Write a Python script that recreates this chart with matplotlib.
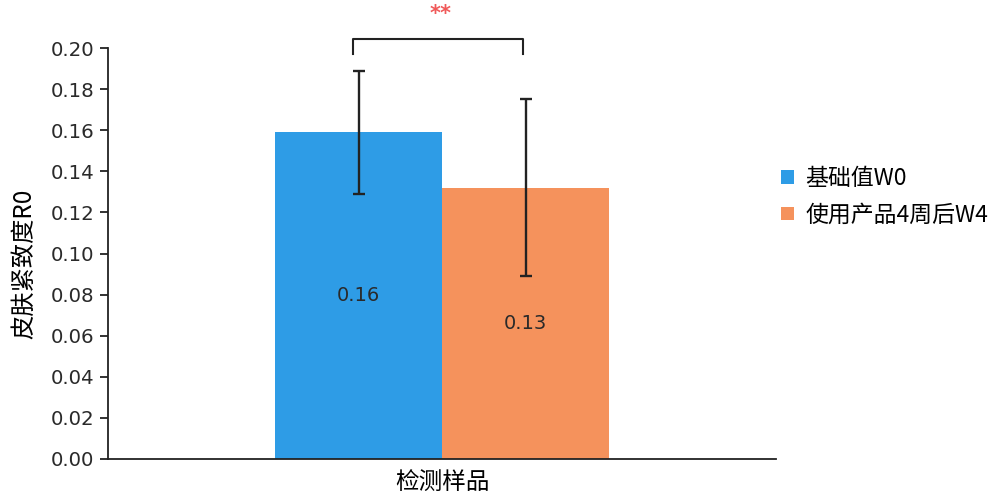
import matplotlib
matplotlib.use("Agg")
import matplotlib.pyplot as plt
from matplotlib.patches import Patch

plt.rcParams['font.family'] = ['Noto Sans CJK SC', 'DejaVu Sans']

# Data
series_names = ["基础值W0", "使用产品4周后W4"]
values = [0.159, 0.132]
errors = [0.030, 0.043]
colors = ["#2E9CE6", "#F5925C"]
category = "检测样品"
y_ticks = [0.00, 0.02, 0.04, 0.06, 0.08, 0.10, 0.12, 0.14, 0.16, 0.18, 0.20]
y_label = "皮肤紧致度R0"
significance = "**"

num_font = ['DejaVu Sans']

fig = plt.figure(figsize=(9.94, 5.01), dpi=100)
ax = fig.add_axes([0.109, 0.084, 0.672, 0.820])

bar_w = 0.25
xs = [-bar_w / 2, bar_w / 2]
ax.bar(xs, values, width=bar_w, color=colors, edgecolor="none", zorder=2)
ax.errorbar(xs, values, yerr=errors, fmt="none", ecolor="#222222",
            elinewidth=1.7, capsize=4.5, capthick=1.7, zorder=3)

for x, v in zip(xs, values):
    ax.text(x, v / 2, f"{v:.2f}", ha="center", va="center",
            fontsize=14, color="#2a2a2a", family=num_font, zorder=4)

ax.set_xlim(-0.5, 0.5)
ax.set_ylim(0, 0.20)
ax.set_yticks(y_ticks)
ax.set_yticklabels([f"{t:.2f}" for t in y_ticks], fontsize=14.2,
                   color="#2a2a2a", family=num_font)
ax.set_xticks([])
ax.set_xlabel(category, fontsize=17, labelpad=9)
ax.set_ylabel(y_label, fontsize=17.5)
ax.yaxis.set_label_coords(-0.106, 0.475)

for s in ("top", "right"):
    ax.spines[s].set_visible(False)
for s in ("left", "bottom"):
    ax.spines[s].set_linewidth(1.3)
    ax.spines[s].set_color("#222222")
ax.tick_params(axis="y", direction="out", length=6, width=1.3, color="#222222",
               pad=4)

# Significance bracket between the two groups
top = max(v + e for v, e in zip(values, errors))
y_leg = top + 0.0083
y_bar = top + 0.0156
x0, x1 = xs[0] - 0.008, xs[1] - 0.004
ax.plot([x0, x0, x1, x1], [y_leg, y_bar, y_bar, y_leg], color="#222222",
        lw=1.5, clip_on=False, solid_joinstyle="round")
ax.text((x0 + x1) / 2 + 0.003, y_bar + 0.0118, significance, ha="center",
        va="center", color="#F05A5A", fontsize=15, fontweight="bold",
        family=num_font)

handles = [Patch(facecolor=c, edgecolor="none") for c in colors]
fig.legend(handles, series_names, loc="center left",
           bbox_to_anchor=(0.765, 0.607), frameon=False, fontsize=16.5,
           handlelength=0.55, handleheight=0.55, handletextpad=0.5,
           labelspacing=0.58)

fig.savefig("out.png", dpi=100)
